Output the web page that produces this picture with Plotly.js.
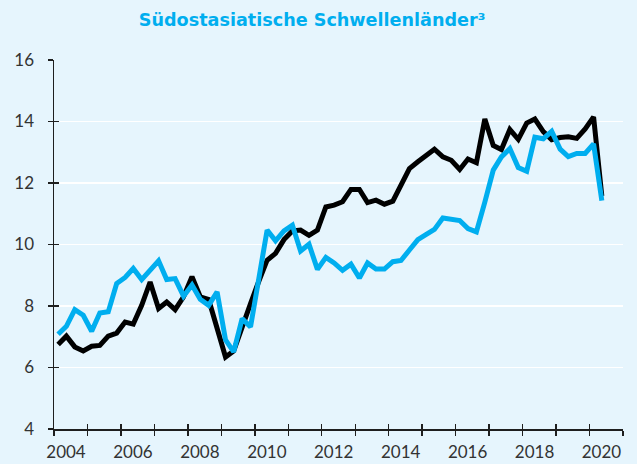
<!DOCTYPE html>
<html>
<head>
<meta charset="utf-8">
<script src="https://cdn.plot.ly/plotly-3.0.1.min.js"></script>
<style>
  html, body { margin: 0; padding: 0; background: #e6f5fd; }
  #chart { width: 637px; height: 464px; }
</style>
</head>
<body>
<div id="chart"></div>
<script>
// Quarterly observations, 2004 Q1 – 2020 Q2
var startYear = 2004;
var quarterMidDates = ["02-15", "05-15", "08-15", "11-15"];

var seriesBlack = [
  6.75, 7.02, 6.67, 6.54, 6.69, 6.72, 7.02, 7.12, 7.48, 7.41,
  8.02, 8.78, 7.92, 8.13, 7.88, 8.30, 8.95, 8.30, 8.21, 7.30,
  6.34, 6.54, 7.35, 8.08, 8.82, 9.49, 9.71, 10.16, 10.44, 10.47,
  10.30, 10.47, 11.22, 11.28, 11.39, 11.79, 11.79, 11.36, 11.44, 11.31,
  11.41, 11.93, 12.47, 12.69, 12.91, 13.10, 12.85, 12.74, 12.44, 12.78,
  12.66, 14.08, 13.22, 13.09, 13.74, 13.42, 13.95, 14.08, 13.67, 13.41,
  13.48, 13.50, 13.45, 13.76, 14.15, 11.58
];

var seriesBlue = [
  7.08, 7.34, 7.88, 7.70, 7.18, 7.77, 7.81, 8.73, 8.93, 9.22,
  8.86, 9.19, 9.47, 8.86, 8.89, 8.32, 8.68, 8.22, 8.02, 8.46,
  6.90, 6.51, 7.59, 7.32, 8.84, 10.47, 10.12, 10.44, 10.63, 9.79,
  10.01, 9.19, 9.58, 9.40, 9.16, 9.36, 8.91, 9.40, 9.20, 9.20,
  9.44, 9.48, 9.82, 10.16, 10.33, 10.49, 10.86, 10.81, 10.78, 10.52,
  10.41, 11.38, 12.42, 12.85, 13.12, 12.50, 12.38, 13.49, 13.44, 13.68,
  13.10, 12.86, 12.96, 12.96, 13.27, 11.43
];

var yearTicks = [2004, 2005, 2006, 2007, 2008, 2009, 2010, 2011, 2012,
                 2013, 2014, 2015, 2016, 2017, 2018, 2019, 2020, 2021];
var yearLabels = ["2004", "", "2006", "", "2008", "", "2010", "", "2012",
                  "", "2014", "", "2016", "", "2018", "", "2020", ""];
var yTicks = [4, 6, 8, 10, 12, 14, 16];

var titleText = "Südostasiatische Schwellenländer³";

// quarter dates (mid-quarter) for each observation
var dates = seriesBlack.map(function (_, i) {
  var y = startYear + Math.floor(i / 4);
  return y + "-" + quarterMidDates[i % 4];
});
var tickDates = yearTicks.map(function (y) { return y + "-01-01"; });
var xRange = [tickDates[0], tickDates[tickDates.length - 1]];

var axisColor = "#1e1e1e";
var textColor = "#333333";
var fontFam = "Lato, 'Open Sans', sans-serif";

var traces = [
  {
    x: dates, y: seriesBlack, type: "scatter", mode: "lines",
    line: { color: "#000000", width: 5 },
    xaxis: "x", yaxis: "y", hoverinfo: "skip"
  },
  {
    x: dates, y: seriesBlue, type: "scatter", mode: "lines",
    line: { color: "#00aeef", width: 5 },
    xaxis: "x2", yaxis: "y2", hoverinfo: "skip"
  }
];

var layout = {
  width: 637, height: 464,
  paper_bgcolor: "#e6f5fd",
  plot_bgcolor: "#e6f5fd",
  margin: { l: 54, r: 14, t: 60, b: 35, pad: 0 },
  showlegend: false,
  title: {
    text: "<b>" + titleText + "</b>",
    font: { family: "'DejaVu Sans', sans-serif", size: 17.6, color: "#00aeef" },
    x: 0.49, xref: "container", xanchor: "center",
    y: 1 - 20 / 464, yref: "container", yanchor: "middle"
  },
  xaxis: {
    type: "date", range: xRange, fixedrange: true,
    tickmode: "array", tickvals: tickDates, ticktext: yearLabels,
    ticks: "outside", ticklen: 5, tickwidth: 1.5, tickcolor: axisColor,
    showline: true, linecolor: axisColor, linewidth: 1.5,
    showgrid: false, zeroline: false,
    ticklabelshift: 12, ticklabelstandoff: 2,
    tickfont: { family: fontFam, size: 17, color: textColor },
    automargin: false
  },
  xaxis2: {
    type: "date", range: xRange, fixedrange: true, overlaying: "x",
    side: "bottom",
    tickmode: "array", tickvals: tickDates,
    ticks: "inside", ticklen: 5, tickwidth: 1.5, tickcolor: axisColor,
    showticklabels: false, showline: false, showgrid: false, zeroline: false,
    automargin: false
  },
  yaxis: {
    range: [4, 16], fixedrange: true,
    tickmode: "array", tickvals: yTicks,
    ticks: "outside", ticklen: 5, tickwidth: 1.5, tickcolor: axisColor,
    showline: true, linecolor: axisColor, linewidth: 1.5,
    showgrid: true, gridcolor: "#ffffff", gridwidth: 1.5,
    zeroline: false, ticklabelstandoff: 10,
    tickfont: { family: fontFam, size: 17, color: textColor },
    automargin: false
  },
  yaxis2: {
    range: [4, 16], fixedrange: true, overlaying: "y", side: "left",
    tickmode: "array", tickvals: yTicks,
    ticks: "inside", ticklen: 5, tickwidth: 1.5, tickcolor: axisColor,
    showticklabels: false, showline: false, showgrid: false, zeroline: false,
    automargin: false
  }
};

Plotly.newPlot("chart", traces, layout, { displayModeBar: false, staticPlot: true });
</script>
</body>
</html>
